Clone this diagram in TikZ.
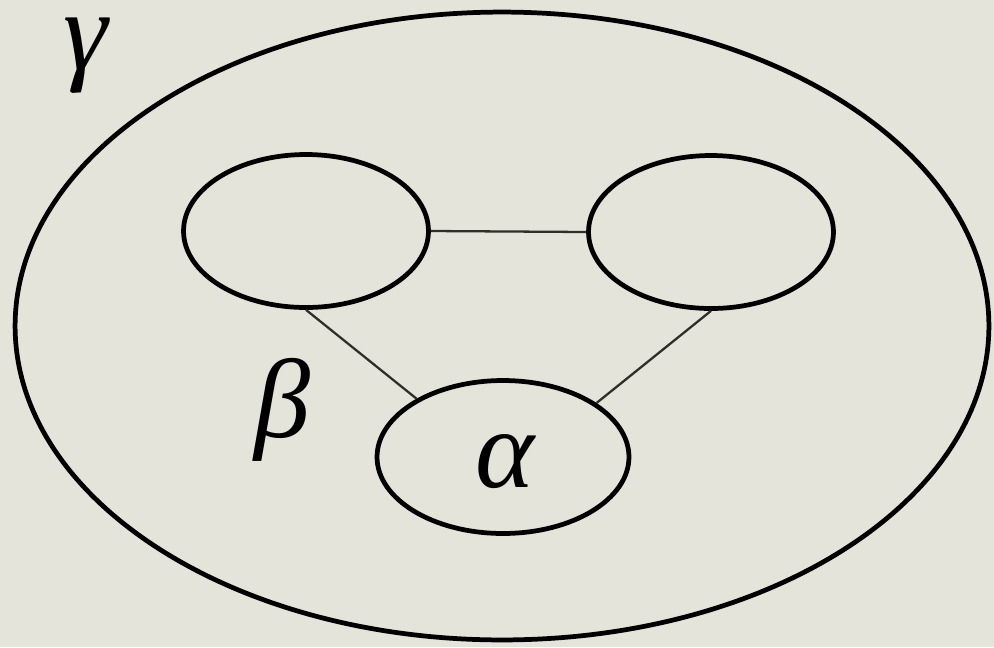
\documentclass[tikz,border=0pt]{standalone}
\usepackage{fontspec}
\newfontfamily\grk{Liberation Serif}
\usetikzlibrary{shapes.geometric}
\definecolor{paper}{HTML}{E4E4DB}
\definecolor{wire}{HTML}{2E2E2B}
\tikzset{ring/.style={ellipse,draw=black,line width=2.7pt,inner sep=0pt},cell/.style={ring,minimum width=4.9cm,minimum height=3.06cm},link/.style={draw=wire,line width=1.3pt},sym/.style={font=\grk\itshape\fontsize{64}{70}\selectfont,inner sep=0pt}}
\begin{document}
\begin{tikzpicture}[x=0.02cm,y=-0.02cm]

\fill[paper] (0,0) rectangle (994,647);
\useasboundingbox (0,0) rectangle (994,647);
\node[ring,minimum width=19.48cm,minimum height=12.56cm] (outer) at (502,326) {};
\node[cell] (left) at (306,231) {};
\node[cell] (right) at (711,232) {};
\node[cell,minimum width=5.04cm] (core) at (503,457) {};
\node[sym] (gam) at (86,56) {γ};
\node[sym] (bet) at (282,410) {β};
\node[sym] (alp) at (505,462) {α};
\draw[link] (left.east)--(right.west);
\draw[link] (left.south)--(core.146);
\draw[link] (right.south)--(core.30);
\end{tikzpicture}
\end{document}
